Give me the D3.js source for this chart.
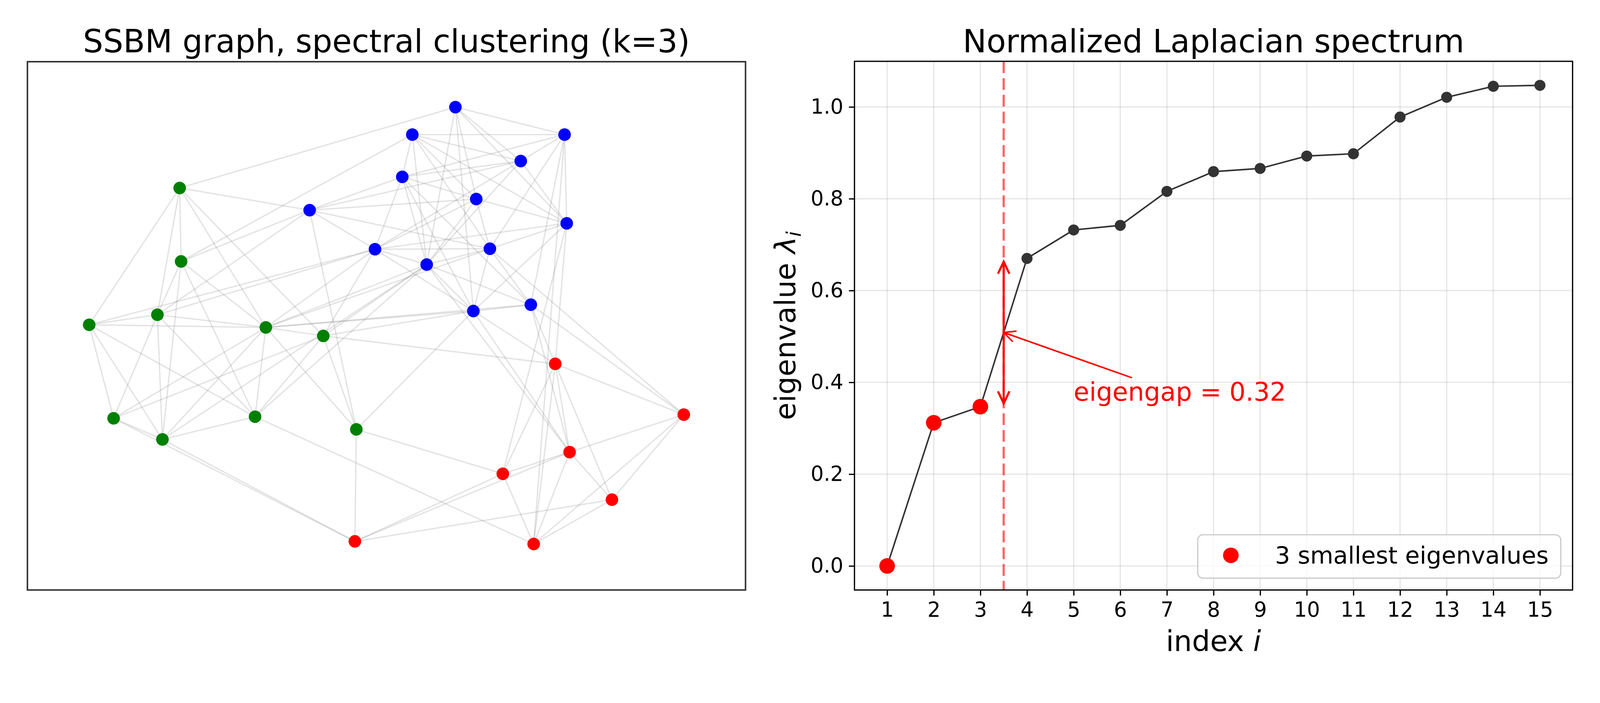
<!DOCTYPE html>
<html>
<head>
<meta charset="utf-8">
<script src="https://cdn.jsdelivr.net/npm/d3@7"></script>
<style>
  html, body { margin: 0; padding: 0; background: #fff; overflow: hidden; }
  #chart { width: 100vw; height: 100vh; }
  svg { display: block; width: 100%; height: 100%; font-family: "DejaVu Sans", sans-serif; }
</style>
</head>
<body>
<div id="chart"></div>
<script>
// ---- graph (layout units: % of panel, y pointing up) ----
const nodeIds = ['g0','g1','g2','g3','g4','g5','g6','g7','g8','g9',
                 'b0','b1','b2','b3','b4','b5','b6','b7','b8','b9','b10','b11','b12',
                 'r0','r1','r2','r3','r4','r5','r6'];
const nodeX = [21.2, 21.4, 18.1, 8.6, 33.2, 41.2, 12.0, 18.8, 31.7, 45.8,
               59.6, 53.6, 74.8, 68.7, 52.2, 62.5, 75.1, 48.4, 64.4, 55.6, 62.1, 70.1, 39.3,
               73.5, 91.4, 75.5, 66.2, 81.4, 70.5, 45.6];
const nodeY = [76.1, 62.2, 52.1, 50.2, 49.7, 48.1, 32.5, 28.5, 32.8, 30.4,
               91.4, 86.2, 86.2, 81.2, 78.2, 74.0, 69.4, 64.5, 64.6, 61.6, 52.8, 54.0, 71.9,
               42.8, 33.2, 26.1, 22.0, 17.1, 8.7, 9.2];
const nodeCluster = [0,0,0,0,0,0,0,0,0,0, 1,1,1,1,1,1,1,1,1,1,1,1,1, 2,2,2,2,2,2,2];
const edges = [
  // green block
  ['g0','g1'],['g0','g2'],['g0','g3'],['g0','g4'],['g0','g5'],
  ['g1','g2'],['g1','g7'],['g1','g8'],['g1','g4'],
  ['g2','g3'],['g2','g4'],['g2','g6'],['g2','g7'],['g2','g8'],
  ['g3','g4'],['g3','g6'],['g3','g7'],['g3','g8'],
  ['g4','g5'],['g4','g6'],['g4','g7'],['g4','g8'],['g4','g9'],
  ['g5','g9'],['g5','g6'],['g5','g8'],['g6','g7'],['g7','g8'],
  // green - blue
  ['g0','b0'],['g0','b12'],['g1','b1'],['g1','b12'],['g2','b12'],['g2','b7'],['g3','b7'],
  ['g4','b10'],['g4','b11'],['g4','b7'],['g4','b9'],['g4','b8'],['g5','b10'],['g5','b7'],
  ['g5','b9'],['g7','b9'],['g8','b9'],['g9','b12'],['g9','b10'],
  // green - red
  ['g5','r0'],['g6','r6'],['g7','r6'],['g9','r6'],['g9','r3'],['g8','r5'],
  // blue block
  ['b0','b2'],['b0','b5'],['b0','b9'],['b0','b10'],['b0','b3'],['b0','b6'],
  ['b1','b2'],['b1','b3'],['b1','b4'],['b1','b9'],['b1','b8'],['b1','b6'],['b1','b5'],
  ['b2','b3'],['b2','b4'],['b2','b6'],['b2','b8'],['b2','b11'],
  ['b3','b4'],['b3','b7'],['b3','b9'],['b3','b6'],['b3','b12'],
  ['b4','b5'],['b4','b9'],['b4','b10'],['b4','b7'],['b4','b11'],['b4','b12'],
  ['b5','b6'],['b5','b8'],['b5','b7'],['b5','b9'],['b5','b12'],
  ['b6','b7'],['b6','b8'],['b6','b10'],
  ['b7','b8'],['b7','b9'],['b7','b10'],['b7','b12'],
  ['b8','b9'],['b8','b10'],['b8','b11'],['b8','b12'],
  ['b9','b11'],['b9','b10'],['b10','b11'],
  // blue - red
  ['b6','r0'],['b10','r0'],['b11','r0'],['b11','r2'],['b6','r3'],['b11','r1'],['b8','r1'],
  ['b10','r2'],['b9','r2'],['b2','r5'],
  // red block
  ['r0','r1'],['r0','r2'],['r0','r3'],['r0','r4'],['r0','r5'],
  ['r1','r2'],['r1','r4'],['r1','r5'],
  ['r2','r3'],['r2','r4'],['r2','r5'],['r2','r6'],
  ['r3','r5'],['r3','r6'],['r4','r5'],['r4','r6']
];
const clusterColors = ['#008000', '#0000ff', '#ff0000'];

// ---- spectrum ----
const eigIndex  = [1, 2, 3, 4, 5, 6, 7, 8, 9, 10, 11, 12, 13, 14, 15];
const eigValues = [0.000, 0.312, 0.347, 0.670, 0.732, 0.742, 0.816, 0.859,
                   0.866, 0.893, 0.898, 0.978, 1.021, 1.045, 1.047];
const kSmallest = 3;
const yTicks = [0.0, 0.2, 0.4, 0.6, 0.8, 1.0];
const annoText = [5, 0.36];     // data coords of label
const annoTail = [6.25, 0.41];  // where the pointer leaves the label

const W = 4200, H = 1800;
const FONT = '"DejaVu Sans", sans-serif';

const svg = d3.select('#chart').append('svg')
  .attr('viewBox', `0 0 ${W} ${H}`)
  .attr('preserveAspectRatio', 'xMidYMin meet')
  .style('font-family', FONT);

svg.append('rect').attr('width', W).attr('height', H).attr('fill', '#fff');

// =========== left panel: graph ===========
const L = { left: 72, right: 1957, top: 162, bottom: 1549 };
const gx = d3.scaleLinear().domain([0, 100]).range([L.left, L.right]);
const gy = d3.scaleLinear().domain([0, 100]).range([L.bottom, L.top]);

const idx = new Map(nodeIds.map((id, i) => [id, i]));
const left = svg.append('g');

left.append('text')
  .attr('x', (L.left + L.right) / 2).attr('y', 137)
  .attr('text-anchor', 'middle').attr('font-size', 83.3)
  .text('SSBM graph, spectral clustering (k=3)');

left.append('g').selectAll('line')
  .data(edges)
  .join('line')
  .attr('x1', d => gx(nodeX[idx.get(d[0])]))
  .attr('y1', d => gy(nodeY[idx.get(d[0])]))
  .attr('x2', d => gx(nodeX[idx.get(d[1])]))
  .attr('y2', d => gy(nodeY[idx.get(d[1])]))
  .attr('stroke', '#808080').attr('stroke-opacity', 0.22)
  .attr('stroke-width', 3.5);

left.append('g').selectAll('circle')
  .data(nodeIds)
  .join('circle')
  .attr('cx', (d, i) => gx(nodeX[i]))
  .attr('cy', (d, i) => gy(nodeY[i]))
  .attr('r', 16.5)
  .attr('fill', (d, i) => clusterColors[nodeCluster[i]]);

left.append('rect')
  .attr('x', L.left).attr('y', L.top)
  .attr('width', L.right - L.left).attr('height', L.bottom - L.top)
  .attr('fill', 'none').attr('stroke', '#333').attr('stroke-width', 4);

// =========== right panel: spectrum ===========
const R = { left: 2243, right: 4128, top: 161, bottom: 1549 };
const xMin = d3.min(eigIndex), xMax = d3.max(eigIndex);
const yMin = d3.min(eigValues), yMax = d3.max(eigValues);
const xPad = (xMax - xMin) * 0.05, yPad = (yMax - yMin) * 0.05;
const x = d3.scaleLinear().domain([xMin - xPad, xMax + xPad]).range([R.left, R.right]);
const y = d3.scaleLinear().domain([yMin - yPad, yMax + yPad]).range([R.bottom, R.top]);

const right = svg.append('g');

// grid
right.append('g').selectAll('line.gx')
  .data(eigIndex).join('line')
  .attr('x1', d => x(d)).attr('x2', d => x(d))
  .attr('y1', R.top).attr('y2', R.bottom)
  .attr('stroke', '#b0b0b0').attr('stroke-opacity', 0.3).attr('stroke-width', 3.3);
right.append('g').selectAll('line.gy')
  .data(yTicks).join('line')
  .attr('y1', d => y(d)).attr('y2', d => y(d))
  .attr('x1', R.left).attr('x2', R.right)
  .attr('stroke', '#b0b0b0').attr('stroke-opacity', 0.3).attr('stroke-width', 3.3);

// axes
const xAxis = right.append('g')
  .attr('transform', `translate(0,${R.bottom})`)
  .call(d3.axisBottom(x).tickValues(eigIndex).tickFormat(d3.format('d'))
    .tickSize(14.6).tickPadding(17));
const yAxis = right.append('g')
  .attr('transform', `translate(${R.left},0)`)
  .call(d3.axisLeft(y).tickValues(yTicks).tickFormat(d3.format('.1f'))
    .tickSize(14.6).tickPadding(14.6));
[xAxis, yAxis].forEach(a => {
  a.select('.domain').remove();
  a.selectAll('line').attr('stroke', '#000').attr('stroke-width', 3.3);
  a.selectAll('text').attr('font-size', 54).attr('font-family', FONT).attr('fill', '#000');
});

// eigengap marker line
const kCut = kSmallest + 0.5;
right.append('line')
  .attr('x1', x(kCut)).attr('x2', x(kCut))
  .attr('y1', R.top).attr('y2', R.bottom)
  .attr('stroke', '#ff0000').attr('stroke-opacity', 0.6)
  .attr('stroke-width', 6).attr('stroke-dasharray', '31,13');

// spectrum line + markers
const pts = eigIndex.map((d, i) => [d, eigValues[i]]);
right.append('path')
  .datum(pts)
  .attr('d', d3.line().x(d => x(d[0])).y(d => y(d[1])))
  .attr('fill', 'none').attr('stroke', '#333').attr('stroke-width', 4);
right.append('g').selectAll('circle')
  .data(pts).join('circle')
  .attr('cx', d => x(d[0])).attr('cy', d => y(d[1]))
  .attr('r', 14.5).attr('fill', '#333');
right.append('g').selectAll('circle')
  .data(pts.slice(0, kSmallest)).join('circle')
  .attr('cx', d => x(d[0])).attr('cy', d => y(d[1]))
  .attr('r', 20.5).attr('fill', '#ff0000');

// double-headed gap arrow
const lo = eigValues[kSmallest - 1], hi = eigValues[kSmallest];
const shrink = 8.3;
const ax = x(kCut), ayTop = y(hi) + shrink, ayBot = y(lo) - shrink;
const arrow = right.append('g')
  .attr('stroke', '#ff0000').attr('stroke-width', 5.5).attr('fill', 'none')
  .attr('stroke-linecap', 'butt');
arrow.append('line').attr('x1', ax).attr('x2', ax).attr('y1', ayTop).attr('y2', ayBot);
arrow.append('path').attr('d', `M${ax - 15},${ayTop + 32}L${ax},${ayTop}L${ax + 15},${ayTop + 32}`);
arrow.append('path').attr('d', `M${ax - 15},${ayBot - 32}L${ax},${ayBot}L${ax + 15},${ayBot - 32}`);

// annotation
const tipX = x(kCut), tipY = y((lo + hi) / 2);
const tailX = x(annoTail[0]), tailY = y(annoTail[1]);
const ang = Math.atan2(tailY - tipY, tailX - tipX);
const hl = 34, hw = 0.45;
const anno = right.append('g')
  .attr('stroke', '#ff0000').attr('stroke-width', 4).attr('fill', 'none');
anno.append('line').attr('x1', tailX).attr('y1', tailY).attr('x2', tipX).attr('y2', tipY);
anno.append('path').attr('d',
  `M${tipX + hl * Math.cos(ang - hw)},${tipY + hl * Math.sin(ang - hw)}` +
  `L${tipX},${tipY}` +
  `L${tipX + hl * Math.cos(ang + hw)},${tipY + hl * Math.sin(ang + hw)}`);
right.append('text')
  .attr('x', x(annoText[0])).attr('y', y(annoText[1]))
  .attr('fill', '#ff0000').attr('font-size', 66.7)
  .text(`eigengap = ${(hi - lo).toFixed(2)}`);

// spines
right.append('rect')
  .attr('x', R.left).attr('y', R.top)
  .attr('width', R.right - R.left).attr('height', R.bottom - R.top)
  .attr('fill', 'none').attr('stroke', '#000').attr('stroke-width', 3.3);

// titles and labels
right.append('text')
  .attr('x', (R.left + R.right) / 2).attr('y', 137)
  .attr('text-anchor', 'middle').attr('font-size', 83.3)
  .text('Normalized Laplacian spectrum');

const xl = right.append('text')
  .attr('x', (R.left + R.right) / 2).attr('y', 1709)
  .attr('text-anchor', 'middle').attr('font-size', 75);
xl.append('tspan').text('index ');
xl.append('tspan').attr('font-style', 'italic').text('i');

const yl = right.append('text')
  .attr('transform', `translate(2088,${(R.top + R.bottom) / 2}) rotate(-90)`)
  .attr('text-anchor', 'middle').attr('font-size', 75);
yl.append('tspan').text('eigenvalue ');
yl.append('tspan').attr('font-style', 'italic').text('λ');
yl.append('tspan').attr('font-style', 'italic').attr('font-size', 52).attr('dy', 14).text('i');

// legend
const lg = right.append('g');
lg.append('rect')
  .attr('x', 3144).attr('y', 1404).attr('width', 953).attr('height', 114).attr('rx', 14)
  .attr('fill', '#fff').attr('fill-opacity', 0.8)
  .attr('stroke', '#cccccc').attr('stroke-width', 3.3);
lg.append('circle').attr('cx', 3231).attr('cy', 1458).attr('r', 20.5).attr('fill', '#ff0000');
lg.append('text').attr('x', 3347).attr('y', 1480).attr('font-size', 62.5)
  .text(`${kSmallest} smallest eigenvalues`);
</script>
</body>
</html>
